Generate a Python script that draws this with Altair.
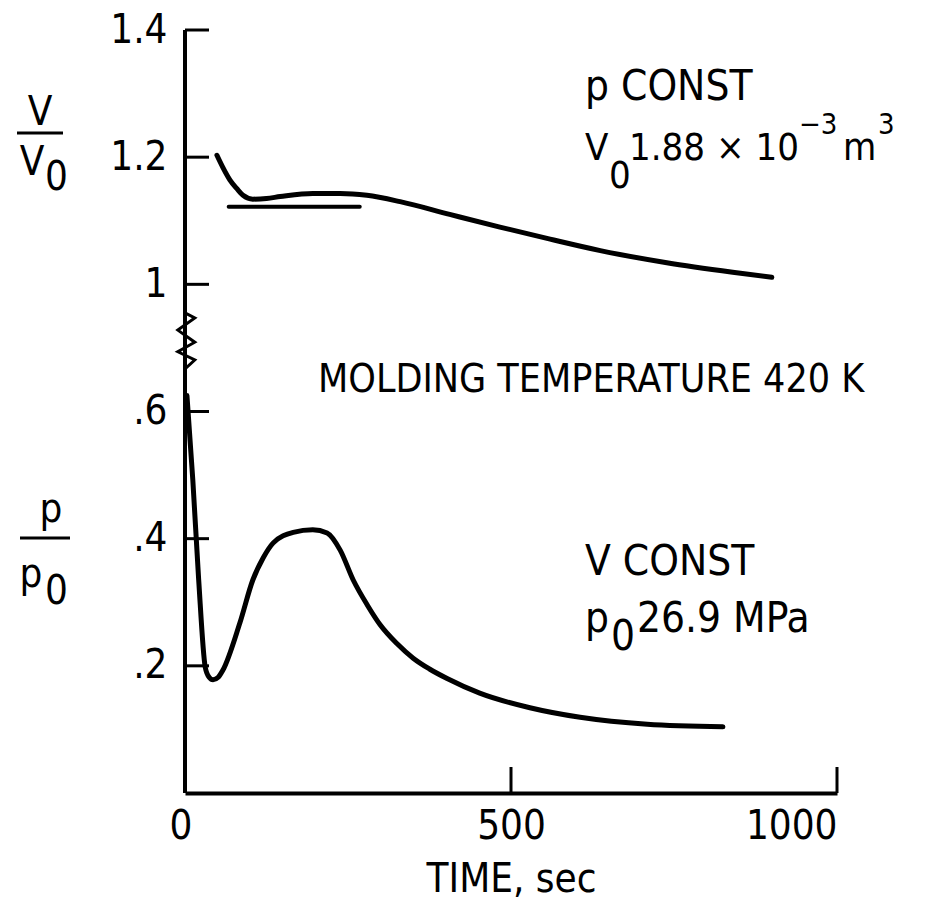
import altair as alt
import pandas as pd

# Specific volume ratio V/V0 at constant pressure (upper branch of the axis)
vol_t = [49, 58, 69, 80, 89, 104, 125, 146, 196, 238, 279, 330, 406, 483, 560, 637, 739, 840, 900]
vol_v = [1.203, 1.184, 1.164, 1.150, 1.140, 1.134, 1.135, 1.138, 1.143, 1.143, 1.140,
         1.130, 1.110, 1.090, 1.071, 1.053, 1.034, 1.019, 1.011]

# Short horizontal reference level under the V/V0 curve
ref_t = [67, 268]
ref_v = [1.122, 1.122]

# Pressure ratio p/p0 at constant volume (lower branch of the axis)
p_t = [3, 12, 21, 31, 37, 43, 51, 58, 84, 104, 120, 135, 166, 196, 218, 238, 258,
       280, 299, 325, 350, 375, 402, 452, 529, 606, 709, 825]
p_v = [0.625, 0.492, 0.335, 0.198, 0.182, 0.178, 0.182, 0.193, 0.267, 0.335, 0.370,
       0.393, 0.410, 0.414, 0.409, 0.382, 0.335, 0.295, 0.265, 0.235, 0.212, 0.195,
       0.180, 0.157, 0.134, 0.119, 0.108, 0.104]

# Axis ticks; the upper branch is drawn 0.2 lower because of the axis break
x_ticks = [0, 500, 1000]
y_tick_pos = [0.2, 0.4, 0.6, 0.8, 1.0, 1.2]
y_tick_labels = [".2", ".4", ".6", "1", "1.2", "1.4"]
UPPER_SHIFT = 0.2

# Zig-zag axis break (offset in sec from the axis, level in axis units)
brk_dx = [0, 15, -11, 15, -11, 15, 0]
brk_y = [0.755, 0.747, 0.728, 0.709, 0.694, 0.681, 0.667]

W, H = 652, 763
FONT = "DejaVu Sans Condensed, Liberation Sans Narrow, Liberation Sans, sans-serif"
FS_TICK = 40
FS_NOTE = 42
FS_SMALL = 38
FS_SUP = 29

xs = alt.Scale(domain=[0, 1000], nice=False, zero=False)
ys = alt.Scale(domain=[0, 1.2], nice=False, zero=False)

label_expr = " : ".join(
    f"datum.value == {p} ? '{l}'" for p, l in zip(y_tick_pos, y_tick_labels)
) + " : ''"

vol_df = pd.DataFrame({"t": vol_t, "v": vol_v})
ref_df = pd.DataFrame({"t": ref_t, "v": ref_v})
p_df = pd.DataFrame({"t": p_t, "v": p_v})

x_axis = alt.Axis(
    values=x_ticks, format="d", grid=False, ticks=False, domain=True,
    domainColor="black", domainWidth=4, labelFont=FONT, labelFontSize=FS_TICK,
    labelColor="black", labelPadding=13,
    labelOffset={"condition": {"test": "datum.value == 0", "value": -16}, "value": 0},
    title="TIME, sec", titleFont=FONT, titleFontSize=40, titleFontWeight="normal",
    titleColor="black", titleY=98, titleBaseline="alphabetic",
)
y_axis = alt.Axis(
    values=y_tick_pos, grid=False, ticks=False, domain=False, labelFont=FONT,
    labelFontSize=FS_TICK, labelColor="black", labelPadding=18, labelExpr=label_expr,
    title=None,
)

base_line = dict(color="black", strokeWidth=5, strokeCap="round", strokeJoin="round",
                 interpolate="monotone")

vol = alt.Chart(vol_df).transform_calculate(y=f"datum.v - {UPPER_SHIFT}").mark_line(
    **base_line).encode(
    x=alt.X("t:Q", scale=xs, axis=x_axis),
    y=alt.Y("y:Q", scale=ys, axis=y_axis),
)
ref = alt.Chart(ref_df).transform_calculate(y=f"datum.v - {UPPER_SHIFT}").mark_line(
    color="black", strokeWidth=4, strokeCap="round").encode(
    x=alt.X("t:Q", scale=xs), y=alt.Y("y:Q", scale=ys))
pres = alt.Chart(p_df).mark_line(**base_line).encode(
    x=alt.X("t:Q", scale=xs), y=alt.Y("v:Q", scale=ys))

# Y axis line, interrupted by the break
axis_df = pd.DataFrame({"y0": [0, brk_y[-1]], "y1": [brk_y[0], 1.2]})
y_line = alt.Chart(axis_df).mark_rule(color="black", strokeWidth=4).encode(
    x=alt.value(0), y=alt.Y("y0:Q", scale=ys), y2="y1:Q")
brk_df = pd.DataFrame({"dx": brk_dx, "y": brk_y, "o": list(range(len(brk_dx)))})
brk = alt.Chart(brk_df).mark_line(color="black", strokeWidth=3).encode(
    x=alt.X("dx:Q", scale=xs), y=alt.Y("y:Q", scale=ys), order="o:O")

# Inward tick marks
yt = alt.Chart(pd.DataFrame({"p": y_tick_pos})).mark_rule(color="black", strokeWidth=3).encode(
    x=alt.value(0), x2=alt.value(24), y=alt.Y("p:Q", scale=ys))
xt = alt.Chart(pd.DataFrame({"t": x_ticks[1:]})).mark_rule(color="black", strokeWidth=3).encode(
    x=alt.X("t:Q", scale=xs), y=alt.value(H), y2=alt.value(H - 26))


def txt(s, x, y, size=FS_NOTE, align="left", baseline="alphabetic"):
    return alt.Chart(alt.Data(values=[{}])).mark_text(
        font=FONT, fontSize=size, color="black", align=align, baseline=baseline,
        x=x, y=y).encode(text=alt.value(s))


def bar(x0, x1, y):
    return alt.Chart(alt.Data(values=[{}])).mark_rule(color="black", strokeWidth=3).encode(
        x=alt.value(x0), x2=alt.value(x1), y=alt.value(y))


notes = [
    txt("p CONST", 400, 70),
    txt("V", 400, 130, size=FS_SMALL), txt("0", 424, 158, size=FS_SMALL),
    txt("1.88 × 10", 444, 130, size=FS_SMALL),
    txt("−3", 614, 104, size=FS_SUP), txt("m", 658, 130, size=FS_SMALL),
    txt("3", 693, 104, size=FS_SUP),
    txt("MOLDING TEMPERATURE 420 K", 133, 362, size=39),
    txt("V CONST", 400, 545),
    txt("p", 400, 602), txt("0", 426, 620), txt("26.9 MPa", 452, 602),
    # axis quantity labels
    txt("V", -145, 95, align="center", size=40), bar(-168, -122, 103),
    txt("V", -153, 145, align="center", size=40), txt("0", -140, 160, size=40),
    txt("p", -134, 492, align="center", size=40), bar(-165, -115, 508),
    txt("p", -154, 557, align="center", size=40), txt("0", -140, 574, size=40),
]

chart = alt.layer(vol, ref, pres, y_line, brk, yt, xt, *notes).properties(
    width=W, height=H,
    autosize=alt.AutoSizeParams(type="none"),
    padding={"left": 185, "top": 30, "right": 88, "bottom": 112},
).configure(background="white").configure_view(strokeWidth=0)

chart.save("out.html", embed_options={"renderer": "svg", "actions": False})
